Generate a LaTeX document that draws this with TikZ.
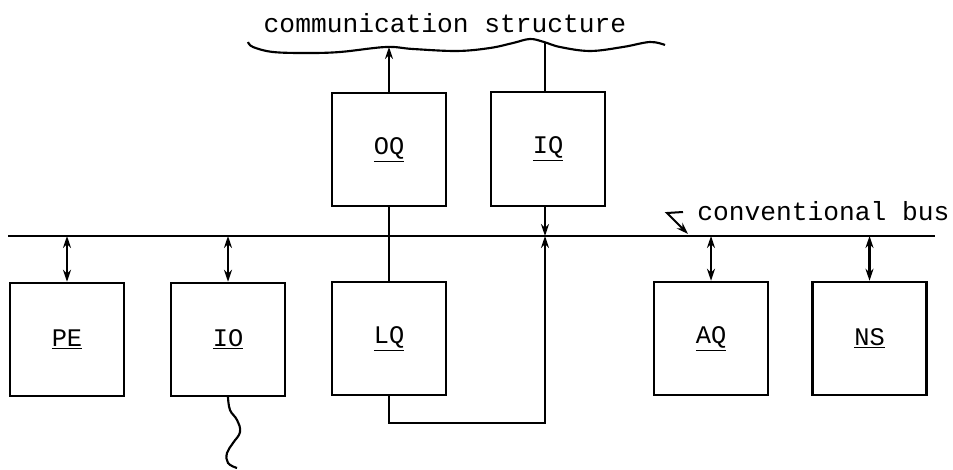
\documentclass[tikz,border=0pt]{standalone}
\usepackage{fontspec}
\setmonofont{Liberation Mono}
\usetikzlibrary{arrows.meta}
\begin{document}
\begin{tikzpicture}[x=0.75pt,y=-0.75pt,
  unit/.style={draw,line width=1.6pt,minimum width=85.5pt,minimum height=85pt,inner sep=0pt,font=\ttfamily\fontsize{19}{22}\selectfont},
  link/.style={line width=1.6pt},
  tip/.style={-{Stealth[length=9pt,width=6pt]}},
  both/.style={{Stealth[length=9pt,width=6pt]}-{Stealth[length=9pt,width=6pt]}},
  caption/.style={font=\ttfamily\fontsize{19.7}{22}\selectfont,inner sep=0pt}]
\useasboundingbox (0,0) rectangle (953,470);
% boxes
\node[unit] (OQ) at (389,149.5) {\underline{OQ}};
\node[unit] (IQ) at (548,149) {\underline{IQ}};
\node[unit] (LQ) at (389,338.5) {\underline{LQ}};
\node[unit] (PE) at (67,339.5) {\underline{PE}};
\node[unit] (IO) at (228,339.5) {\underline{IO}};
\node[unit] (AQ) at (711,338.5) {\underline{AQ}};
\node[unit] (NS) at (869.5,338.5) {\underline{NS}};
% texts
\node[caption] (cs) at (445,23) {communication structure};
\node[caption,anchor=west] (cb) at (697,211) {conventional bus};
% bus
\coordinate (busL) at (8,236);
\coordinate (busR) at (935,236);
\draw[link] (busL) -- (busR);
% communication structure wave
\draw[link] plot[smooth,tension=0.6] coordinates {(248,42) (253,47) (273,52) (307,53) (340,52) (386,47) (413,49) (457,51) (490,48) (513,43) (530,39) (544,42) (560,47) (590,51) (623,47) (650,42) (665,45)};
\coordinate (wOQ) at (389,47);
\coordinate (wIQ) at (545,42);
\coordinate (bIQ) at (545,236);
\coordinate (corner) at (545,423);
% connectors
\draw[link,tip] (OQ.north) -- (wOQ);
\draw[link] (wIQ) -- (wIQ |- IQ.north);
\draw[link] (OQ.south) -- (LQ.north);
\draw[link,tip] (bIQ |- IQ.south) -- (bIQ);
\draw[link,tip] (LQ.south) |- (corner) -- (bIQ);
\draw[link,both] (PE.north) -- (PE.north |- busL);
\draw[link,both] (IO.north) -- (IO.north |- busL);
\draw[link,both] (AQ.north) -- (AQ.north |- busL);
\draw[link,both] (NS.north) -- (NS.north |- busL);
% IO squiggle
\coordinate (sqEnd) at (237,468);
\draw[link] (IO.south) plot[smooth,tension=0.7] coordinates {(228,397) (230,410) (237,420) (240,432) (233,443) (227,453) (228,463) (237,468)};
% pointer to bus
\coordinate (pt) at (688,234);
\draw[line width=1.5pt,tip] (683,212) -- (667,213) -- (pt);
\end{tikzpicture}
\end{document}
